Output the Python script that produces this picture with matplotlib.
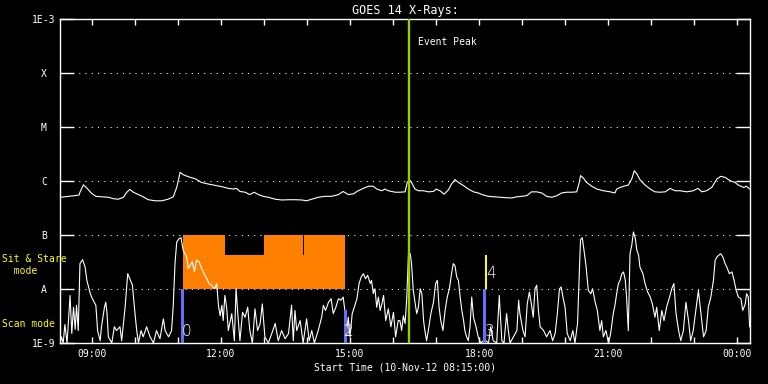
import matplotlib
matplotlib.use("Agg")
import matplotlib.pyplot as plt
import matplotlib.ticker as ticker

plt.rcParams['font.family'] = 'DejaVu Sans Mono'

# GOES 14 long channel (1-8 A), hours since 00:00 10-Nov-12, W/m^2
long_hours = [
    8.28, 8.45, 8.60, 8.70, 8.72, 8.80, 8.88, 8.99, 9.09, 9.22, 9.38, 9.50,
    9.61, 9.73, 9.81, 9.88, 9.96, 10.08, 10.19, 10.31, 10.47, 10.62, 10.77,
    10.89, 10.97, 11.05, 11.12, 11.24, 11.40, 11.55, 11.70, 11.86, 12.02,
    12.17, 12.29, 12.36, 12.44, 12.56, 12.67, 12.77, 12.87, 12.98, 13.10,
    13.26, 13.41, 13.57, 13.72, 13.88, 13.99, 14.11, 14.26, 14.42, 14.57,
    14.73, 14.84, 14.96, 15.08, 15.19, 15.31, 15.43, 15.54, 15.62, 15.74,
    15.81, 15.89, 16.05, 16.16, 16.28, 16.33, 16.38, 16.43, 16.51, 16.59,
    16.71, 16.82, 16.94, 17.00, 17.09, 17.19, 17.29, 17.36, 17.44, 17.52,
    17.64, 17.75, 17.87, 17.98, 18.10, 18.22, 18.37, 18.49, 18.64, 18.76,
    18.88, 18.99, 19.11, 19.22, 19.34, 19.46, 19.57, 19.69, 19.81, 19.92,
    20.04, 20.16, 20.27, 20.33, 20.36, 20.43, 20.50, 20.62, 20.74, 20.89,
    21.05, 21.16, 21.20, 21.28, 21.36, 21.47, 21.55, 21.61, 21.67, 21.74,
    21.86, 21.98, 22.09, 22.21, 22.33, 22.44, 22.56, 22.67, 22.83, 22.98,
    23.09, 23.18, 23.29, 23.41, 23.53, 23.62, 23.72, 23.84, 23.95, 24.03,
    24.15, 24.22, 24.29,
]
long_flux = [
    5.0e-7, 5.2e-7, 5.35e-7, 5.5e-7, 6.2e-7, 8.5e-7, 7.4e-7, 5.9e-7, 5.2e-7,
    5.1e-7, 5.0e-7, 4.7e-7, 4.6e-7, 5.0e-7, 6.2e-7, 7.0e-7, 6.2e-7, 5.6e-7,
    5.1e-7, 4.5e-7, 4.3e-7, 4.3e-7, 4.6e-7, 5.1e-7, 7.6e-7, 1.45e-6, 1.31e-6,
    1.20e-6, 1.10e-6, 9.4e-7, 8.8e-7, 8.3e-7, 7.85e-7, 7.3e-7, 7.1e-7, 7.3e-7,
    6.4e-7, 6.2e-7, 5.6e-7, 6.2e-7, 5.6e-7, 5.2e-7, 5.0e-7, 4.6e-7, 4.45e-7,
    4.5e-7, 4.5e-7, 4.45e-7, 4.3e-7, 4.6e-7, 5.0e-7, 5.2e-7, 5.2e-7, 5.6e-7,
    6.4e-7, 5.6e-7, 5.8e-7, 6.6e-7, 7.3e-7, 8.0e-7, 8.0e-7, 7.1e-7, 6.6e-7,
    7.1e-7, 6.6e-7, 6.2e-7, 6.2e-7, 6.3e-7, 9.4e-7, 1.06e-6, 9.4e-7, 7.1e-7,
    6.6e-7, 6.6e-7, 6.3e-7, 6.4e-7, 7.1e-7, 6.6e-7, 5.7e-7, 6.9e-7, 8.8e-7,
    1.06e-6, 9.4e-7, 8.2e-7, 7.1e-7, 6.3e-7, 6.0e-7, 5.5e-7, 5.2e-7, 5.1e-7,
    5.0e-7, 4.9e-7, 4.85e-7, 5.1e-7, 5.2e-7, 5.35e-7, 6.3e-7, 6.3e-7, 6.0e-7,
    5.2e-7, 5.0e-7, 5.35e-7, 6.0e-7, 6.2e-7, 6.2e-7, 6.3e-7, 9.4e-7, 1.26e-6,
    1.12e-6, 9.4e-7, 8.0e-7, 7.1e-7, 6.6e-7, 6.3e-7, 6.0e-7, 7.1e-7, 7.6e-7,
    8.0e-7, 8.4e-7, 1.09e-6, 1.55e-6, 1.35e-6, 1.06e-6, 8.4e-7, 7.1e-7, 6.3e-7,
    6.2e-7, 6.3e-7, 7.3e-7, 6.6e-7, 6.6e-7, 6.3e-7, 6.6e-7, 7.3e-7, 6.3e-7,
    6.6e-7, 7.6e-7, 1.09e-6, 1.22e-6, 1.17e-6, 1.01e-6, 9.4e-7, 8.4e-7, 7.6e-7,
    8.0e-7, 7.1e-7,
]

# GOES 14 short channel (0.5-4 A), in units of 1e-9 W/m^2
short_hours = [
    8.26, 8.29, 8.33, 8.37, 8.42, 8.49, 8.53, 8.57, 8.61, 8.64, 8.68, 8.72,
    8.78, 8.84, 8.88, 8.91, 8.95, 8.99, 9.05, 9.09, 9.13, 9.19, 9.22, 9.29,
    9.32, 9.35, 9.38, 9.46, 9.52, 9.57, 9.65, 9.69, 9.77, 9.83, 9.88, 9.94,
    10.00, 10.04, 10.08, 10.14, 10.19, 10.27, 10.35, 10.43, 10.50, 10.58,
    10.66, 10.70, 10.78, 10.85, 10.89, 10.93, 10.97, 11.02, 11.07, 11.12,
    11.20, 11.24, 11.28, 11.33, 11.38, 11.43, 11.49, 11.55, 11.61, 11.67,
    11.72, 11.78, 11.85, 11.90, 11.94, 11.98, 12.02, 12.05, 12.09, 12.13,
    12.17, 12.25, 12.31, 12.35, 12.39, 12.44, 12.50, 12.56, 12.62, 12.67,
    12.73, 12.79, 12.85, 12.91, 12.96, 13.02, 13.10, 13.18, 13.26, 13.33,
    13.41, 13.49, 13.57, 13.64, 13.68, 13.72, 13.76, 13.84, 13.91, 13.99,
    14.05, 14.11, 14.17, 14.26, 14.34, 14.38, 14.43, 14.50, 14.56, 14.61,
    14.67, 14.73, 14.79, 14.84, 14.88, 14.92, 14.96, 15.00, 15.05, 15.10,
    15.16, 15.21, 15.26, 15.31, 15.36, 15.41, 15.47, 15.50, 15.54, 15.58,
    15.62, 15.66, 15.70, 15.74, 15.78, 15.83, 15.89, 15.95, 16.01, 16.06,
    16.12, 16.16, 16.20, 16.24, 16.28, 16.32, 16.36, 16.40, 16.43, 16.47,
    16.51, 16.55, 16.59, 16.63, 16.67, 16.71, 16.74, 16.78, 16.82, 16.88,
    16.94, 16.99, 17.03, 17.07, 17.11, 17.16, 17.21, 17.26, 17.31, 17.36,
    17.40, 17.44, 17.48, 17.52, 17.56, 17.60, 17.64, 17.67, 17.71, 17.75,
    17.79, 17.83, 17.87, 17.93, 17.98, 18.04, 18.10, 18.16, 18.22, 18.27,
    18.33, 18.41, 18.47, 18.53, 18.58, 18.64, 18.68, 18.72, 18.80, 18.88,
    18.92, 18.95, 19.02, 19.07, 19.12, 19.17, 19.21, 19.26, 19.30, 19.34,
    19.38, 19.42, 19.50, 19.57, 19.65, 19.71, 19.77, 19.82, 19.87, 19.91,
    19.95, 20.00, 20.05, 20.12, 20.18, 20.23, 20.29, 20.33, 20.36, 20.40,
    20.44, 20.49, 20.54, 20.60, 20.64, 20.70, 20.75, 20.81, 20.85, 20.89,
    20.95, 21.01, 21.06, 21.12, 21.16, 21.20, 21.24, 21.28, 21.32, 21.36,
    21.40, 21.43, 21.47, 21.51, 21.55, 21.59, 21.63, 21.67, 21.71, 21.74,
    21.81, 21.86, 21.92, 21.98, 22.03, 22.09, 22.13, 22.19, 22.25, 22.30,
    22.36, 22.43, 22.48, 22.53, 22.58, 22.64, 22.69, 22.75, 22.81, 22.87,
    22.92, 22.98, 23.05, 23.10, 23.16, 23.22, 23.28, 23.33, 23.39, 23.45,
    23.49, 23.53, 23.57, 23.62, 23.67, 23.72, 23.76, 23.82, 23.88, 23.93,
    23.98, 24.03, 24.09, 24.13, 24.19, 24.22, 24.26, 24.29,
]
short_flux_nw = [
    1.0, 1.3, 1.0, 2.2, 1.0, 7.6, 1.5, 4.6, 1.8, 5.0, 1.7, 29.5,
    34.9, 25.6, 14.5, 11.7, 8.8, 7.1, 5.7, 5.0, 1.7, 1.1, 2.0, 4.6,
    5.7, 3.5, 1.3, 1.0, 2.0, 1.7, 2.0, 1.1, 4.6, 19.2, 15.5, 11.7,
    3.5, 1.7, 1.0, 1.7, 1.3, 2.0, 1.3, 1.0, 1.7, 1.2,
    2.8, 1.7, 1.3, 1.7, 5.0, 29.5, 74.0, 85.0, 89.0, 52.0,
    39.0, 24.0, 27.0, 32.0, 21.0, 34.0, 32.0, 24.0, 19.0, 15.5,
    12.6, 11.7, 10.1, 12.6, 5.0, 3.2, 5.0, 2.6, 7.6, 4.6,
    1.7, 3.5, 1.1, 10.1, 3.5, 1.1, 3.7, 3.0, 4.6, 1.7,
    1.0, 4.3, 1.7, 2.3, 5.3, 1.3, 1.0, 1.5, 2.3, 1.1,
    1.7, 1.2, 1.5, 5.0, 1.1, 4.0, 1.7, 2.6, 1.0, 2.8,
    1.1, 1.7, 1.0, 1.7, 3.0, 5.0, 4.0, 5.7, 6.6, 3.5,
    4.6, 6.6, 6.2, 7.1, 4.0, 1.7, 3.0, 1.3, 3.5, 4.6,
    6.6, 12.6, 16.7, 19.2, 15.5, 17.9, 12.6, 14.5, 8.2, 10.1,
    4.6, 7.1, 4.0, 5.3, 7.6, 2.6, 4.3, 2.0, 3.7, 1.3,
    2.6, 2.6, 1.7, 3.2, 2.3, 7.1, 48.0, 45.0, 29.5, 9.4,
    5.7, 3.5, 4.6, 10.1, 8.2, 2.6, 1.7, 1.1, 1.7, 3.5,
    5.7, 12.6, 14.5, 4.6, 2.6, 1.7, 4.0, 7.1, 10.1, 19.2,
    29.5, 27.0, 16.7, 14.5, 7.1, 4.0, 2.6, 1.7, 1.3, 1.1,
    2.0, 7.1, 3.0, 2.0, 1.3, 1.0, 1.1, 1.1, 1.0, 2.0,
    1.1, 1.0, 7.6, 1.1, 1.0, 3.5, 1.7, 1.0, 1.3, 1.7,
    6.2, 3.5, 1.7, 1.3, 5.3, 8.8, 5.7, 3.0, 10.1, 11.7,
    4.0, 2.0, 1.7, 1.3, 1.7, 1.1, 1.5, 3.5, 10.1, 10.9,
    7.1, 4.6, 1.5, 1.1, 1.7, 1.0, 2.3, 19.2, 82.0, 89.0,
    52.0, 25.6, 9.4, 8.2, 10.1, 5.7, 4.0, 1.7, 2.6, 1.3,
    1.7, 1.0, 1.5, 3.5, 5.0, 8.2, 12.6, 14.5, 19.2, 20.7,
    14.5, 7.1, 1.7, 45.0, 64.0, 114.0, 89.0, 52.0, 42.0, 25.6,
    19.2, 12.6, 8.8, 7.1, 5.3, 3.0, 4.6, 1.7, 4.0, 2.6,
    4.6, 7.1, 10.1, 12.6, 3.5, 1.7, 1.1, 1.7, 5.7, 2.6,
    1.1, 1.7, 4.6, 9.4, 3.5, 1.3, 1.7, 4.6, 7.1, 14.5,
    34.0, 39.0, 42.0, 45.0, 39.0, 29.5, 25.6, 19.2, 20.7, 14.5,
    9.4, 7.1, 6.6, 4.0, 5.3, 8.2, 7.1, 2.0,
]

# Sit & Stare coverage: lower band continuous, upper band in pieces
stare_low_start, stare_low_end = 11.11, 14.88
stare_low_top = 4.3e-8
stare_up_starts = [11.11, 13.00, 13.93]
stare_up_ends = [12.09, 13.90, 14.88]

# Scan mode markers
scan_hours = [11.105, 14.89, 18.128]
scan_tops = [1e-8, 4.0e-9, 1e-8]
stare_mark_hour, stare_mark_top = 18.16, 4.3e-8

obs_labels = ['0', '1', '2', '3', '4']
obs_label_hours = [11.20, 14.93, 14.96, 18.25, 18.27]
obs_label_flux = [1.6e-9, 1.6e-9, 1.6e-9, 1.6e-9, 1.9e-8]

event_peak_hour = 16.367

level_values = [1e-9, 1e-8, 1e-7, 1e-6, 1e-5, 1e-4, 1e-3]
level_names = ['1E-9', 'A', 'B', 'C', 'M', 'X', '1E-3']

FG = 'white'

fig = plt.figure(figsize=(7.68, 3.84), dpi=100, facecolor='black')
ax = fig.add_axes([60 / 768, 41 / 384, 690 / 768, 324 / 384])
ax.set_facecolor('black')
ax.set_yscale('log')
ax.set_ylim(1e-9, 1e-3)
ax.set_xlim(8.256, 24.30)

for spine in ax.spines.values():
    spine.set_color(FG)
    spine.set_linewidth(1)

# dotted class lines
for lev in level_values[1:-1]:
    ax.axhline(lev, color=FG, lw=0.75, ls=(0, (1, 5)), zorder=1)

# Sit & Stare blocks
ax.bar([stare_low_start], [stare_low_top - 1e-8], width=stare_low_end - stare_low_start,
       bottom=1e-8, align='edge', color='#ff8000', linewidth=0, zorder=2)
ax.bar(stare_up_starts, [1e-7 - stare_low_top] * len(stare_up_starts),
       width=[e - s for s, e in zip(stare_up_starts, stare_up_ends)],
       bottom=stare_low_top, align='edge', color='#ff8000', linewidth=0, zorder=2)

# curves
ax.plot(long_hours, long_flux, color=FG, lw=0.8, zorder=4)
ax.plot(short_hours, [v * 1e-9 for v in short_flux_nw], color=FG, lw=0.8, zorder=4)

# scan / stare markers
ax.bar(scan_hours, [t - 1e-9 for t in scan_tops], width=0.075, bottom=1e-9,
       color='#6b6bff', linewidth=0, zorder=5)
ax.bar([stare_mark_hour], [stare_mark_top - 1e-8], width=0.045, bottom=1e-8,
       color='#ffff00', linewidth=0, zorder=5)
for lab, h, f in zip(obs_labels, obs_label_hours, obs_label_flux):
    ax.text(h, f, lab, color=FG, fontsize=11, ha='center', va='center',
            family='DejaVu Sans', fontweight='light', zorder=6)

# event peak
ax.axvline(event_peak_hour, color='#99cc00', lw=1.7, zorder=6)
ax.text(16.58, 3.8e-4, 'Event Peak', color=FG, fontsize=7, ha='left', va='center')

# axes ticks
ax.set_yticks(level_values)
ax.set_yticklabels(level_names)
ax.yaxis.set_minor_locator(ticker.NullLocator())
ax.tick_params(axis='y', which='major', direction='in', length=10, width=1,
               colors=FG, left=True, right=True, pad=11.5, labelsize=7)
for tl in ax.get_yticklabels():
    tl.set_horizontalalignment('center')

ax.xaxis.set_major_locator(ticker.FixedLocator([9, 12, 15, 18, 21, 24]))
ax.xaxis.set_minor_locator(ticker.MultipleLocator(1))
ax.xaxis.set_major_formatter(ticker.FuncFormatter(lambda h, _: f"{int(round(h)) % 24:02d}:00"))
ax.tick_params(axis='x', which='both', direction='in', length=4.5, width=1,
               colors=FG, top=True, bottom=True, pad=4, labelsize=7)

ax.set_title('GOES 14 X-Rays:', color=FG, fontsize=8.5, pad=3.5)
ax.set_xlabel('Start Time (10-Nov-12 08:15:00)', color=FG, fontsize=7, labelpad=3)

fig.text(2 / 768, 0.310, 'Sit & Stare\n  mode', color='#ffff00', fontsize=7,
         ha='left', va='center', linespacing=1.2)
fig.text(2 / 768, 0.156, 'Scan mode', color='#ffff00', fontsize=7,
         ha='left', va='center')

fig.savefig('out.png', dpi=100, facecolor='black')
